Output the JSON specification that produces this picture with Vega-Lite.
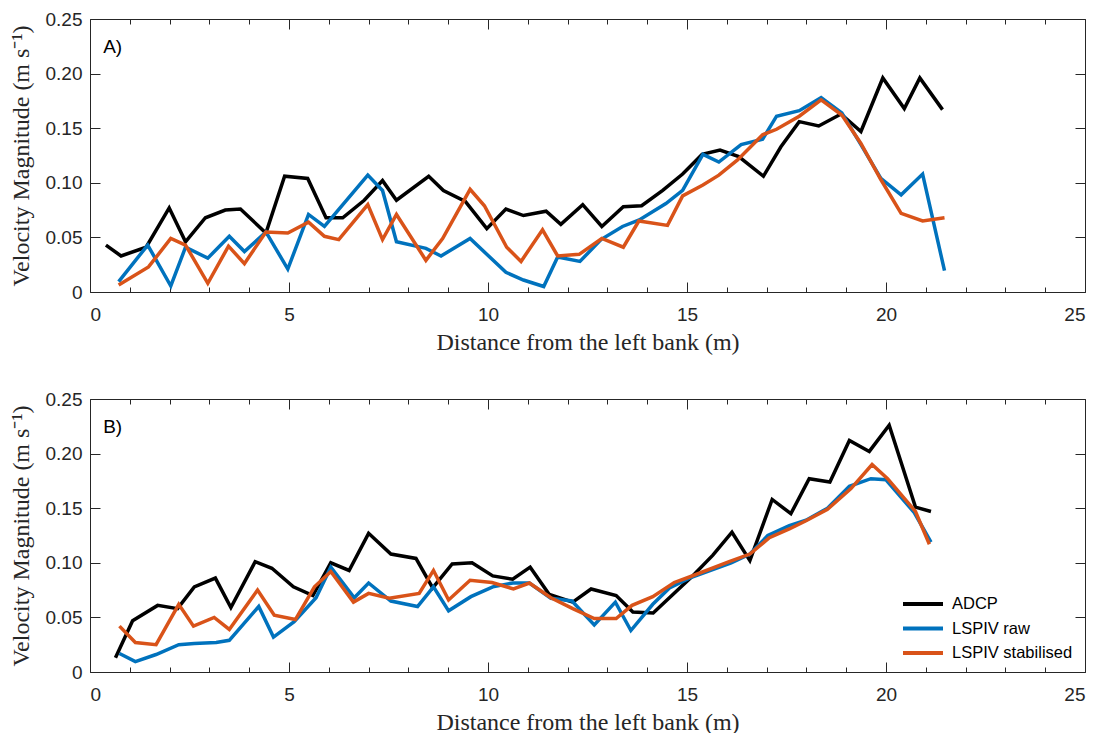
{
  "$schema": "https://vega.github.io/schema/vega-lite/v6.json",
  "background": "white",
  "padding": {"left": 8, "top": 9, "right": 5, "bottom": 2},
  "datasets": {
    "A": [
      {"series": "ADCP", "x": 0.40, "v": 0.043}, {"series": "ADCP", "x": 0.78, "v": 0.033}, {"series": "ADCP", "x": 1.41, "v": 0.041}, {"series": "ADCP", "x": 1.99, "v": 0.077}, {"series": "ADCP", "x": 2.40, "v": 0.046}, {"series": "ADCP", "x": 2.90, "v": 0.068}, {"series": "ADCP", "x": 3.40, "v": 0.075}, {"series": "ADCP", "x": 3.78, "v": 0.076}, {"series": "ADCP", "x": 4.42, "v": 0.054}, {"series": "ADCP", "x": 4.89, "v": 0.106}, {"series": "ADCP", "x": 5.47, "v": 0.104}, {"series": "ADCP", "x": 5.93, "v": 0.068}, {"series": "ADCP", "x": 6.35, "v": 0.068}, {"series": "ADCP", "x": 6.89, "v": 0.084}, {"series": "ADCP", "x": 7.35, "v": 0.102}, {"series": "ADCP", "x": 7.70, "v": 0.084}, {"series": "ADCP", "x": 8.51, "v": 0.106}, {"series": "ADCP", "x": 8.88, "v": 0.093}, {"series": "ADCP", "x": 9.43, "v": 0.083}, {"series": "ADCP", "x": 9.97, "v": 0.058}, {"series": "ADCP", "x": 10.45, "v": 0.076}, {"series": "ADCP", "x": 10.89, "v": 0.070}, {"series": "ADCP", "x": 11.46, "v": 0.074}, {"series": "ADCP", "x": 11.83, "v": 0.062}, {"series": "ADCP", "x": 12.38, "v": 0.080}, {"series": "ADCP", "x": 12.86, "v": 0.060}, {"series": "ADCP", "x": 13.40, "v": 0.078}, {"series": "ADCP", "x": 13.86, "v": 0.079}, {"series": "ADCP", "x": 14.39, "v": 0.093}, {"series": "ADCP", "x": 14.89, "v": 0.108}, {"series": "ADCP", "x": 15.38, "v": 0.126}, {"series": "ADCP", "x": 15.83, "v": 0.130}, {"series": "ADCP", "x": 16.30, "v": 0.124}, {"series": "ADCP", "x": 16.92, "v": 0.106}, {"series": "ADCP", "x": 17.36, "v": 0.133}, {"series": "ADCP", "x": 17.82, "v": 0.156}, {"series": "ADCP", "x": 18.31, "v": 0.152}, {"series": "ADCP", "x": 18.87, "v": 0.163}, {"series": "ADCP", "x": 19.37, "v": 0.147}, {"series": "ADCP", "x": 19.92, "v": 0.196}, {"series": "ADCP", "x": 20.46, "v": 0.168}, {"series": "ADCP", "x": 20.85, "v": 0.196}, {"series": "ADCP", "x": 21.42, "v": 0.167},
      {"series": "LSPIV raw", "x": 0.72, "v": 0.0095}, {"series": "LSPIV raw", "x": 1.45, "v": 0.043}, {"series": "LSPIV raw", "x": 2.03, "v": 0.0055}, {"series": "LSPIV raw", "x": 2.40, "v": 0.041}, {"series": "LSPIV raw", "x": 2.96, "v": 0.031}, {"series": "LSPIV raw", "x": 3.50, "v": 0.051}, {"series": "LSPIV raw", "x": 3.88, "v": 0.037}, {"series": "LSPIV raw", "x": 4.42, "v": 0.055}, {"series": "LSPIV raw", "x": 4.97, "v": 0.021}, {"series": "LSPIV raw", "x": 5.49, "v": 0.071}, {"series": "LSPIV raw", "x": 5.89, "v": 0.060}, {"series": "LSPIV raw", "x": 6.98, "v": 0.107}, {"series": "LSPIV raw", "x": 7.35, "v": 0.093}, {"series": "LSPIV raw", "x": 7.70, "v": 0.046}, {"series": "LSPIV raw", "x": 8.44, "v": 0.040}, {"series": "LSPIV raw", "x": 8.82, "v": 0.033}, {"series": "LSPIV raw", "x": 9.55, "v": 0.049}, {"series": "LSPIV raw", "x": 10.45, "v": 0.018}, {"series": "LSPIV raw", "x": 10.89, "v": 0.011}, {"series": "LSPIV raw", "x": 11.40, "v": 0.005}, {"series": "LSPIV raw", "x": 11.75, "v": 0.032}, {"series": "LSPIV raw", "x": 12.31, "v": 0.028}, {"series": "LSPIV raw", "x": 12.84, "v": 0.048}, {"series": "LSPIV raw", "x": 13.38, "v": 0.060}, {"series": "LSPIV raw", "x": 13.80, "v": 0.066}, {"series": "LSPIV raw", "x": 14.47, "v": 0.081}, {"series": "LSPIV raw", "x": 14.89, "v": 0.093}, {"series": "LSPIV raw", "x": 15.40, "v": 0.126}, {"series": "LSPIV raw", "x": 15.80, "v": 0.119}, {"series": "LSPIV raw", "x": 16.36, "v": 0.135}, {"series": "LSPIV raw", "x": 16.90, "v": 0.140}, {"series": "LSPIV raw", "x": 17.25, "v": 0.161}, {"series": "LSPIV raw", "x": 17.82, "v": 0.166}, {"series": "LSPIV raw", "x": 18.37, "v": 0.178}, {"series": "LSPIV raw", "x": 18.89, "v": 0.164}, {"series": "LSPIV raw", "x": 19.37, "v": 0.135}, {"series": "LSPIV raw", "x": 19.87, "v": 0.104}, {"series": "LSPIV raw", "x": 20.38, "v": 0.089}, {"series": "LSPIV raw", "x": 20.92, "v": 0.108}, {"series": "LSPIV raw", "x": 21.47, "v": 0.0195},
      {"series": "LSPIV stabilised", "x": 0.72, "v": 0.0064}, {"series": "LSPIV stabilised", "x": 1.47, "v": 0.023}, {"series": "LSPIV stabilised", "x": 2.03, "v": 0.049}, {"series": "LSPIV stabilised", "x": 2.40, "v": 0.043}, {"series": "LSPIV stabilised", "x": 2.96, "v": 0.008}, {"series": "LSPIV stabilised", "x": 3.48, "v": 0.042}, {"series": "LSPIV stabilised", "x": 3.88, "v": 0.026}, {"series": "LSPIV stabilised", "x": 4.42, "v": 0.055}, {"series": "LSPIV stabilised", "x": 4.97, "v": 0.054}, {"series": "LSPIV stabilised", "x": 5.49, "v": 0.064}, {"series": "LSPIV stabilised", "x": 5.89, "v": 0.051}, {"series": "LSPIV stabilised", "x": 6.25, "v": 0.048}, {"series": "LSPIV stabilised", "x": 6.98, "v": 0.080}, {"series": "LSPIV stabilised", "x": 7.35, "v": 0.048}, {"series": "LSPIV stabilised", "x": 7.70, "v": 0.071}, {"series": "LSPIV stabilised", "x": 8.44, "v": 0.029}, {"series": "LSPIV stabilised", "x": 8.86, "v": 0.049}, {"series": "LSPIV stabilised", "x": 9.55, "v": 0.094}, {"series": "LSPIV stabilised", "x": 9.91, "v": 0.079}, {"series": "LSPIV stabilised", "x": 10.47, "v": 0.041}, {"series": "LSPIV stabilised", "x": 10.83, "v": 0.028}, {"series": "LSPIV stabilised", "x": 11.37, "v": 0.057}, {"series": "LSPIV stabilised", "x": 11.75, "v": 0.033}, {"series": "LSPIV stabilised", "x": 12.29, "v": 0.0345}, {"series": "LSPIV stabilised", "x": 12.86, "v": 0.049}, {"series": "LSPIV stabilised", "x": 13.40, "v": 0.041}, {"series": "LSPIV stabilised", "x": 13.79, "v": 0.065}, {"series": "LSPIV stabilised", "x": 14.51, "v": 0.061}, {"series": "LSPIV stabilised", "x": 14.89, "v": 0.088}, {"series": "LSPIV stabilised", "x": 15.40, "v": 0.098}, {"series": "LSPIV stabilised", "x": 15.80, "v": 0.107}, {"series": "LSPIV stabilised", "x": 16.27, "v": 0.121}, {"series": "LSPIV stabilised", "x": 16.90, "v": 0.144}, {"series": "LSPIV stabilised", "x": 17.25, "v": 0.149}, {"series": "LSPIV stabilised", "x": 17.82, "v": 0.161}, {"series": "LSPIV stabilised", "x": 18.37, "v": 0.176}, {"series": "LSPIV stabilised", "x": 18.89, "v": 0.162}, {"series": "LSPIV stabilised", "x": 19.37, "v": 0.136}, {"series": "LSPIV stabilised", "x": 19.87, "v": 0.103}, {"series": "LSPIV stabilised", "x": 20.38, "v": 0.072}, {"series": "LSPIV stabilised", "x": 20.92, "v": 0.065}, {"series": "LSPIV stabilised", "x": 21.47, "v": 0.068}
    ],
    "B": [
      {"series": "ADCP", "x": 0.64, "v": 0.013}, {"series": "ADCP", "x": 1.07, "v": 0.047}, {"series": "ADCP", "x": 1.70, "v": 0.061}, {"series": "ADCP", "x": 2.20, "v": 0.058}, {"series": "ADCP", "x": 2.62, "v": 0.078}, {"series": "ADCP", "x": 3.15, "v": 0.086}, {"series": "ADCP", "x": 3.54, "v": 0.059}, {"series": "ADCP", "x": 4.15, "v": 0.101}, {"series": "ADCP", "x": 4.57, "v": 0.095}, {"series": "ADCP", "x": 5.11, "v": 0.078}, {"series": "ADCP", "x": 5.60, "v": 0.070}, {"series": "ADCP", "x": 6.05, "v": 0.100}, {"series": "ADCP", "x": 6.51, "v": 0.093}, {"series": "ADCP", "x": 7.00, "v": 0.127}, {"series": "ADCP", "x": 7.56, "v": 0.108}, {"series": "ADCP", "x": 8.19, "v": 0.104}, {"series": "ADCP", "x": 8.61, "v": 0.077}, {"series": "ADCP", "x": 9.10, "v": 0.099}, {"series": "ADCP", "x": 9.60, "v": 0.100}, {"series": "ADCP", "x": 10.12, "v": 0.088}, {"series": "ADCP", "x": 10.62, "v": 0.085}, {"series": "ADCP", "x": 11.06, "v": 0.096}, {"series": "ADCP", "x": 11.54, "v": 0.071}, {"series": "ADCP", "x": 12.13, "v": 0.064}, {"series": "ADCP", "x": 12.59, "v": 0.076}, {"series": "ADCP", "x": 13.22, "v": 0.070}, {"series": "ADCP", "x": 13.64, "v": 0.055}, {"series": "ADCP", "x": 14.15, "v": 0.054}, {"series": "ADCP", "x": 15.14, "v": 0.088}, {"series": "ADCP", "x": 15.65, "v": 0.107}, {"series": "ADCP", "x": 16.13, "v": 0.128}, {"series": "ADCP", "x": 16.58, "v": 0.102}, {"series": "ADCP", "x": 17.14, "v": 0.158}, {"series": "ADCP", "x": 17.61, "v": 0.145}, {"series": "ADCP", "x": 18.07, "v": 0.177}, {"series": "ADCP", "x": 18.59, "v": 0.174}, {"series": "ADCP", "x": 19.08, "v": 0.212}, {"series": "ADCP", "x": 19.58, "v": 0.202}, {"series": "ADCP", "x": 20.08, "v": 0.226}, {"series": "ADCP", "x": 20.74, "v": 0.151}, {"series": "ADCP", "x": 21.13, "v": 0.147},
      {"series": "LSPIV raw", "x": 0.74, "v": 0.017}, {"series": "LSPIV raw", "x": 1.14, "v": 0.0095}, {"series": "LSPIV raw", "x": 1.66, "v": 0.016}, {"series": "LSPIV raw", "x": 2.23, "v": 0.025}, {"series": "LSPIV raw", "x": 2.62, "v": 0.026}, {"series": "LSPIV raw", "x": 3.17, "v": 0.027}, {"series": "LSPIV raw", "x": 3.50, "v": 0.029}, {"series": "LSPIV raw", "x": 4.24, "v": 0.060}, {"series": "LSPIV raw", "x": 4.61, "v": 0.032}, {"series": "LSPIV raw", "x": 5.13, "v": 0.046}, {"series": "LSPIV raw", "x": 5.68, "v": 0.068}, {"series": "LSPIV raw", "x": 6.05, "v": 0.096}, {"series": "LSPIV raw", "x": 6.64, "v": 0.068}, {"series": "LSPIV raw", "x": 7.00, "v": 0.0815}, {"series": "LSPIV raw", "x": 7.56, "v": 0.065}, {"series": "LSPIV raw", "x": 8.23, "v": 0.060}, {"series": "LSPIV raw", "x": 8.63, "v": 0.078}, {"series": "LSPIV raw", "x": 9.01, "v": 0.056}, {"series": "LSPIV raw", "x": 9.57, "v": 0.069}, {"series": "LSPIV raw", "x": 10.12, "v": 0.078}, {"series": "LSPIV raw", "x": 10.62, "v": 0.0815}, {"series": "LSPIV raw", "x": 11.04, "v": 0.0815}, {"series": "LSPIV raw", "x": 11.58, "v": 0.0675}, {"series": "LSPIV raw", "x": 12.11, "v": 0.065}, {"series": "LSPIV raw", "x": 12.67, "v": 0.043}, {"series": "LSPIV raw", "x": 13.20, "v": 0.064}, {"series": "LSPIV raw", "x": 13.59, "v": 0.038}, {"series": "LSPIV raw", "x": 14.14, "v": 0.062}, {"series": "LSPIV raw", "x": 14.56, "v": 0.077}, {"series": "LSPIV raw", "x": 15.06, "v": 0.086}, {"series": "LSPIV raw", "x": 16.11, "v": 0.100}, {"series": "LSPIV raw", "x": 16.58, "v": 0.108}, {"series": "LSPIV raw", "x": 17.03, "v": 0.125}, {"series": "LSPIV raw", "x": 17.57, "v": 0.134}, {"series": "LSPIV raw", "x": 17.99, "v": 0.139}, {"series": "LSPIV raw", "x": 18.53, "v": 0.150}, {"series": "LSPIV raw", "x": 19.08, "v": 0.170}, {"series": "LSPIV raw", "x": 19.62, "v": 0.177}, {"series": "LSPIV raw", "x": 20.00, "v": 0.176}, {"series": "LSPIV raw", "x": 20.71, "v": 0.146}, {"series": "LSPIV raw", "x": 21.13, "v": 0.119},
      {"series": "LSPIV stabilised", "x": 0.74, "v": 0.042}, {"series": "LSPIV stabilised", "x": 1.14, "v": 0.027}, {"series": "LSPIV stabilised", "x": 1.66, "v": 0.025}, {"series": "LSPIV stabilised", "x": 2.23, "v": 0.062}, {"series": "LSPIV stabilised", "x": 2.60, "v": 0.042}, {"series": "LSPIV stabilised", "x": 3.12, "v": 0.050}, {"series": "LSPIV stabilised", "x": 3.50, "v": 0.039}, {"series": "LSPIV stabilised", "x": 4.21, "v": 0.075}, {"series": "LSPIV stabilised", "x": 4.63, "v": 0.052}, {"series": "LSPIV stabilised", "x": 5.16, "v": 0.048}, {"series": "LSPIV stabilised", "x": 5.64, "v": 0.078}, {"series": "LSPIV stabilised", "x": 6.05, "v": 0.092}, {"series": "LSPIV stabilised", "x": 6.62, "v": 0.064}, {"series": "LSPIV stabilised", "x": 7.00, "v": 0.072}, {"series": "LSPIV stabilised", "x": 7.52, "v": 0.0675}, {"series": "LSPIV stabilised", "x": 8.27, "v": 0.072}, {"series": "LSPIV stabilised", "x": 8.63, "v": 0.093}, {"series": "LSPIV stabilised", "x": 9.01, "v": 0.066}, {"series": "LSPIV stabilised", "x": 9.55, "v": 0.084}, {"series": "LSPIV stabilised", "x": 10.10, "v": 0.082}, {"series": "LSPIV stabilised", "x": 10.64, "v": 0.076}, {"series": "LSPIV stabilised", "x": 11.04, "v": 0.0815}, {"series": "LSPIV stabilised", "x": 11.58, "v": 0.068}, {"series": "LSPIV stabilised", "x": 12.13, "v": 0.058}, {"series": "LSPIV stabilised", "x": 12.67, "v": 0.049}, {"series": "LSPIV stabilised", "x": 13.22, "v": 0.049}, {"series": "LSPIV stabilised", "x": 13.62, "v": 0.061}, {"series": "LSPIV stabilised", "x": 14.14, "v": 0.069}, {"series": "LSPIV stabilised", "x": 14.68, "v": 0.082}, {"series": "LSPIV stabilised", "x": 15.06, "v": 0.087}, {"series": "LSPIV stabilised", "x": 16.06, "v": 0.101}, {"series": "LSPIV stabilised", "x": 16.58, "v": 0.108}, {"series": "LSPIV stabilised", "x": 17.07, "v": 0.123}, {"series": "LSPIV stabilised", "x": 17.57, "v": 0.131}, {"series": "LSPIV stabilised", "x": 17.99, "v": 0.1385}, {"series": "LSPIV stabilised", "x": 18.53, "v": 0.149}, {"series": "LSPIV stabilised", "x": 19.12, "v": 0.168}, {"series": "LSPIV stabilised", "x": 19.65, "v": 0.190}, {"series": "LSPIV stabilised", "x": 20.04, "v": 0.177}, {"series": "LSPIV stabilised", "x": 20.74, "v": 0.147}, {"series": "LSPIV stabilised", "x": 21.09, "v": 0.117}
    ]
  },
  "config": {
    "view": {"stroke": "#262626", "strokeWidth": 1},
    "axis": {"grid": false, "domain": false, "tickColor": "#262626", "tickWidth": 1, "labelColor": "#262626", "titleColor": "#262626", "labelFont": "Liberation Sans", "labelFontSize": 19, "titleFont": "Liberation Serif", "titleFontSize": 24, "titleFontWeight": "normal"},
    "legend": {"orient": "none", "legendX": 811, "legendY": 193, "title": null, "symbolType": "M-2,0H2", "symbolSize": 400, "symbolStrokeWidth": 4, "symbolOffset": 10, "labelFont": "Liberation Sans", "labelFontSize": 16.5, "labelColor": "#000000", "labelOffset": 17, "rowPadding": 3.5, "padding": 0}
  },
  "spacing": 34,
  "resolve": {"scale": {"color": "independent"}},
  "vconcat": [
    {
      "width": 995, "height": 273,
      "data": {"name": "A"},
      "resolve": {"axis": {"x": "independent", "y": "independent"}},
      "layer": [
        {
          "transform": [{"filter": "datum.series === 'ADCP'"}],
          "mark": {"type": "line", "strokeWidth": 3.5},
          "encoding": {
            "x": {"field": "x", "type": "quantitative", "scale": {"domain": [0, 25], "nice": false, "zero": false},
                  "axis": {"orient": "bottom", "values": [0, 5, 10, 15, 20, 25], "tickSize": -10, "labelPadding": 23, "title": "Distance from the left bank (m)", "titlePadding": 6}},
            "y": {"field": "v", "type": "quantitative", "scale": {"domain": [0, 0.25], "nice": false},
                  "axis": {"orient": "left", "values": [0, 0.05, 0.1, 0.15, 0.2, 0.25], "tickSize": -10, "labelPadding": 18, "labelExpr": "datum.value == 0 ? '0' : format(datum.value, '.2f')", "title": "Velocity Magnitude (m s⁻¹)", "titlePadding": 12}},
            "color": {"datum": "ADCP", "scale": {"domain": ["ADCP", "LSPIV raw", "LSPIV stabilised"], "range": ["#000000", "#0072BD", "#D95319"]}, "legend": null}
          }
        },
        {
          "transform": [{"filter": "datum.series === 'LSPIV raw'"}],
          "mark": {"type": "line", "strokeWidth": 3.5},
          "encoding": {
            "x": {"field": "x", "type": "quantitative", "axis": {"orient": "bottom", "values": [1, 2, 3, 4, 6, 7, 8, 9, 11, 12, 13, 14, 16, 17, 18, 19, 21, 22, 23, 24], "tickSize": -5, "labels": false, "title": null}},
            "y": {"field": "v", "type": "quantitative", "axis": {"orient": "right", "values": [0, 0.05, 0.1, 0.15, 0.2, 0.25], "tickSize": -10, "labels": false, "title": null}},
            "color": {"datum": "LSPIV raw", "legend": null}
          }
        },
        {
          "transform": [{"filter": "datum.series === 'LSPIV stabilised'"}],
          "mark": {"type": "line", "strokeWidth": 3.5},
          "encoding": {
            "x": {"field": "x", "type": "quantitative", "axis": {"orient": "top", "values": [0, 5, 10, 15, 20, 25], "tickSize": -10, "labels": false, "title": null}},
            "y": {"field": "v", "type": "quantitative", "axis": null},
            "color": {"datum": "LSPIV stabilised", "legend": null}
          }
        },
        {
          "data": {"values": [{"label": "A)"}]},
          "mark": {"type": "text", "align": "left", "baseline": "middle", "font": "Liberation Sans", "fontSize": 19, "color": "#000000"},
          "encoding": {
            "x": {"datum": 0.33, "type": "quantitative", "axis": {"orient": "top", "values": [1, 2, 3, 4, 6, 7, 8, 9, 11, 12, 13, 14, 16, 17, 18, 19, 21, 22, 23, 24], "tickSize": -5, "labels": false, "title": null}},
            "y": {"datum": 0.2245, "type": "quantitative", "axis": null},
            "text": {"field": "label"}
          }
        }
      ]
    },
    {
      "width": 995, "height": 273,
      "data": {"name": "B"},
      "resolve": {"axis": {"x": "independent", "y": "independent"}},
      "layer": [
        {
          "transform": [{"filter": "datum.series === 'ADCP'"}],
          "mark": {"type": "line", "strokeWidth": 3.5},
          "encoding": {
            "x": {"field": "x", "type": "quantitative", "scale": {"domain": [0, 25], "nice": false, "zero": false},
                  "axis": {"orient": "bottom", "values": [0, 5, 10, 15, 20, 25], "tickSize": -10, "labelPadding": 23, "title": "Distance from the left bank (m)", "titlePadding": 6}},
            "y": {"field": "v", "type": "quantitative", "scale": {"domain": [0, 0.25], "nice": false},
                  "axis": {"orient": "left", "values": [0, 0.05, 0.1, 0.15, 0.2, 0.25], "tickSize": -10, "labelPadding": 18, "labelExpr": "datum.value == 0 ? '0' : format(datum.value, '.2f')", "title": "Velocity Magnitude (m s⁻¹)", "titlePadding": 12}},
            "color": {"datum": "ADCP", "scale": {"domain": ["ADCP", "LSPIV raw", "LSPIV stabilised"], "range": ["#000000", "#0072BD", "#D95319"]}}
          }
        },
        {
          "transform": [{"filter": "datum.series === 'LSPIV raw'"}],
          "mark": {"type": "line", "strokeWidth": 3.5},
          "encoding": {
            "x": {"field": "x", "type": "quantitative", "axis": {"orient": "bottom", "values": [1, 2, 3, 4, 6, 7, 8, 9, 11, 12, 13, 14, 16, 17, 18, 19, 21, 22, 23, 24], "tickSize": -5, "labels": false, "title": null}},
            "y": {"field": "v", "type": "quantitative", "axis": {"orient": "right", "values": [0, 0.05, 0.1, 0.15, 0.2, 0.25], "tickSize": -10, "labels": false, "title": null}},
            "color": {"datum": "LSPIV raw"}
          }
        },
        {
          "transform": [{"filter": "datum.series === 'LSPIV stabilised'"}],
          "mark": {"type": "line", "strokeWidth": 3.5},
          "encoding": {
            "x": {"field": "x", "type": "quantitative", "axis": {"orient": "top", "values": [0, 5, 10, 15, 20, 25], "tickSize": -10, "labels": false, "title": null}},
            "y": {"field": "v", "type": "quantitative", "axis": null},
            "color": {"datum": "LSPIV stabilised"}
          }
        },
        {
          "data": {"values": [{"label": "B)"}]},
          "mark": {"type": "text", "align": "left", "baseline": "middle", "font": "Liberation Sans", "fontSize": 19, "color": "#000000"},
          "encoding": {
            "x": {"datum": 0.33, "type": "quantitative", "axis": {"orient": "top", "values": [1, 2, 3, 4, 6, 7, 8, 9, 11, 12, 13, 14, 16, 17, 18, 19, 21, 22, 23, 24], "tickSize": -5, "labels": false, "title": null}},
            "y": {"datum": 0.2245, "type": "quantitative", "axis": null},
            "text": {"field": "label"}
          }
        }
      ]
    }
  ]
}
